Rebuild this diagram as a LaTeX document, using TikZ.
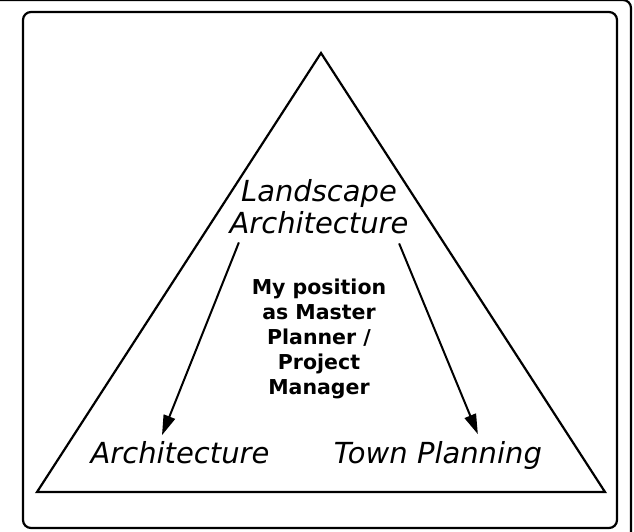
\documentclass[tikz,border=0pt]{standalone}
\usepackage{fontspec}
\setmainfont{DejaVu Sans}
\usetikzlibrary{positioning,arrows.meta}

\begin{document}
\begin{tikzpicture}[x=1pt,y=-1pt,
  frame/.style={draw,line width=2.2pt,rounded corners=8pt},
  field/.style={font=\fontsize{29}{32}\selectfont\itshape,inner sep=0pt,align=center},
  me/.style={font=\fontsize{20.5}{25}\selectfont\bfseries,inner sep=0pt,align=center},
  link/.style={line width=2pt,-{Triangle[length=20pt,width=12pt]}}]
      \useasboundingbox (0,0) rectangle (634,531);
      % Frames
      \draw[frame] (-30,0) rectangle (631,560);
      \draw[frame] (23,12) rectangle (617,528);
      % Triangle
      \coordinate (apex) at (321,53);
      \coordinate (baseL) at (37,492);
      \coordinate (baseR) at (605,492);
      \draw[line width=2.2pt] (apex) -- (baseR) -- (baseL) -- cycle;
      % Define nodes
      \node[field] (land) at (319,207) {Landscape\\Architecture};
      \node[me, below=44pt of land] (me) {My position\\as Master\\Planner /\\Project\\Manager};
      \node[field, anchor=base] (arch) at (180,463) {Architecture};
      \node[field, base right=64pt of arch] (town) {Town Planning};
      % Connect nodes
      \draw[link] ([xshift=9.5pt,yshift=-8pt]land.south west) -- ([xshift=-18pt,yshift=5.6pt]arch.north);
      \draw[link] ([xshift=-9.5pt,yshift=-9pt]land.south east) -- ([xshift=40pt,yshift=6.6pt]town.north);
\end{tikzpicture}
\end{document}
